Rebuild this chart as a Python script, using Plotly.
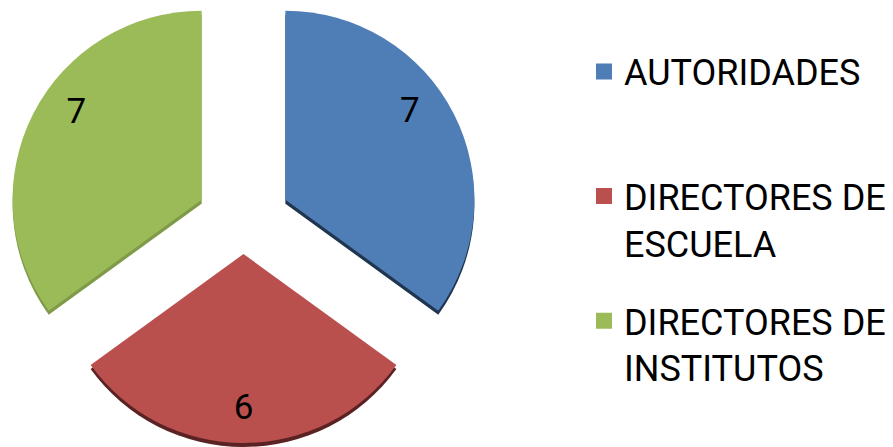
import math
import plotly.graph_objects as go

categories = ["AUTORIDADES", "DIRECTORES DE<br>ESCUELA", "DIRECTORES DE<br>INSTITUTOS"]
values = [7, 6, 7]

colors = ["#4F7EB6", "#BA504E", "#9BBB59"]
edge_colors = ["#1F3550", "#5A2222", "#7F9A48"]
explode_px = [47, 33, 47]          # how far each slice is pulled out (style)
label_turn = [-8.6, 0, 8]          # nudges each value label along its arc (style)

W, H = 893, 447
PAGE_MARGIN = 8                    # default <body> margin of the html page
R = 189                            # pie radius in px
CX, CY = 243.5 - PAGE_MARGIN, 221 - PAGE_MARGIN   # pie centre in figure px
SHADOW = 4                         # thickness of the darker edge in px
TRANSPARENT = "rgba(0,0,0,0)"

fig = go.Figure()

total = sum(values)
cum = 0.0
slice_centres = []
for v, d in zip(values, explode_px):
    mid = math.radians(90 - 360 * (cum + v / 2) / total)
    slice_centres.append((CX + d * math.cos(mid), CY - d * math.sin(mid)))
    cum += v


def domain(cx, cy):
    return dict(x=[(cx - R) / W, (cx + R) / W],
                y=[1 - (cy + R) / H, 1 - (cy - R) / H])


def only(i, cols):
    return [c if j == i else TRANSPARENT for j, c in enumerate(cols)]


common = dict(labels=categories, values=values, sort=False, direction="clockwise",
              showlegend=False)

# darker "thickness" layer behind each slice
for i, (cx, cy) in enumerate(slice_centres):
    fig.add_trace(go.Pie(
        **common, rotation=0,
        marker=dict(colors=only(i, edge_colors), line=dict(width=0)),
        textinfo="none", hoverinfo="skip", domain=domain(cx, cy + SHADOW),
    ))

# the slices themselves
for i, (cx, cy) in enumerate(slice_centres):
    fig.add_trace(go.Pie(
        **common, rotation=0,
        marker=dict(colors=only(i, colors), line=dict(width=0)),
        textinfo="none", hoverinfo="label+value", domain=domain(cx, cy),
    ))

# value labels, placed towards the outer edge of each slice
for i, (cx, cy) in enumerate(slice_centres):
    fig.add_trace(go.Pie(
        **common, rotation=label_turn[i], hole=0.62,
        marker=dict(colors=[TRANSPARENT] * len(values), line=dict(width=0)),
        texttemplate=["%{value}" if j == i else "" for j in range(len(values))],
        textposition="inside", insidetextorientation="horizontal",
        textfont=dict(family="Roboto", size=35, color="black"),
        hoverinfo="skip", domain=domain(cx, cy),
    ))

# legend entries
for i, (name, col) in enumerate(zip(categories, colors)):
    label = name if "<br>" in name else name + "<br>\u00a0"
    fig.add_trace(go.Scatter(
        x=[None], y=[None], mode="markers", name=label,
        marker=dict(symbol="square", size=16, color=col),
        legendgroup=str(i), showlegend=True,
    ))

fig.update_layout(
    width=W, height=H,
    margin=dict(l=0, r=0, t=0, b=0),
    paper_bgcolor="white", plot_bgcolor="white",
    xaxis=dict(visible=False), yaxis=dict(visible=False),
    legend=dict(
        x=0.645, y=0.925, xanchor="left", yanchor="top",
        font=dict(family="Roboto", size=36, color="black"),
        valign="top", tracegroupgap=28, bgcolor="rgba(0,0,0,0)",
    ),
)

fig.write_html("out.html")
